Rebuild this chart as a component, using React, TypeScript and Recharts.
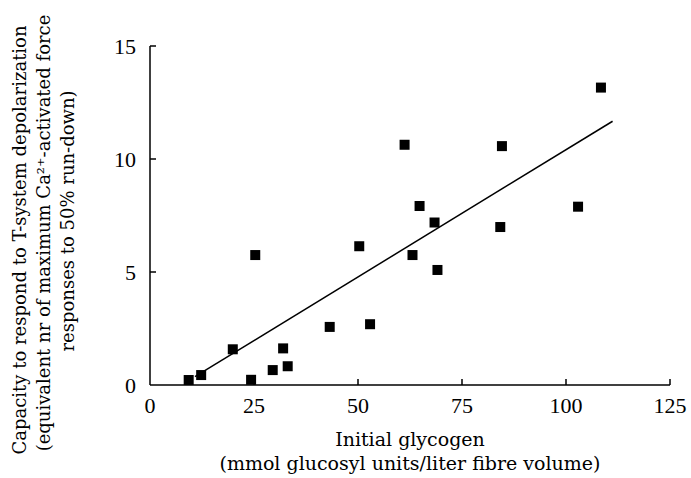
import React from 'react';
import { ScatterChart, Scatter, XAxis, YAxis } from 'recharts';

const glycogen = [9.3, 12.3, 19.9, 24.3, 25.3, 29.5, 32.0, 33.1, 43.2, 50.3, 52.9, 61.2, 63.1, 64.8, 68.4, 69.1, 84.2, 84.6, 102.9, 108.4];
const capacity = [0.22, 0.44, 1.58, 0.23, 5.75, 0.66, 1.62, 0.83, 2.57, 6.14, 2.69, 10.63, 5.75, 7.92, 7.19, 5.09, 6.99, 10.57, 7.89, 13.16];
const fitX = [10.8, 111.2];
const fitY = [0.37, 11.67];
const xTicks = [0, 25, 50, 75, 100, 125];
const yTicks = [0, 5, 10, 15];
const xTitle = ['Initial glycogen', '(mmol glucosyl units/liter fibre volume)'];
const yTitle = [
  'Capacity to respond to T-system depolarization',
  '(equivalent nr of maximum Ca²⁺-activated force',
  'responses to 50% run-down)',
];

const points = glycogen.map((g, i) => ({ x: g, y: capacity[i] }));
const fit = fitX.map((g, i) => ({ x: g, y: fitY[i] }));

const TICK_FONT = '"Liberation Serif", "Times New Roman", serif';
const TITLE_FONT = '"DejaVu Serif", serif';
const TM = 10;

const XTick = (props: any) => {
  const { x, y, payload } = props;
  const axisY = y - TM;
  return (
    <g>
      {payload.value > 0 && (
        <line x1={x} y1={axisY} x2={x} y2={axisY - 6} stroke="#000" strokeWidth={1.5} />
      )}
      <text x={x} y={axisY + 28} textAnchor="middle" fontFamily={TICK_FONT} fontSize={22} fill="#000">
        {payload.value}
      </text>
    </g>
  );
};

const YTick = (props: any) => {
  const { x, y, payload } = props;
  const axisX = x + TM;
  return (
    <g>
      {payload.value > 0 && (
        <line x1={axisX} y1={y} x2={axisX + 6} y2={y} stroke="#000" strokeWidth={1.5} />
      )}
      <text x={axisX - 14} y={y + 8} textAnchor="end" fontFamily={TICK_FONT} fontSize={22} fill="#000">
        {payload.value}
      </text>
    </g>
  );
};

const Square = (props: any) => {
  const { cx, cy } = props;
  if (cx == null || cy == null) return <g />;
  return <rect x={cx - 5} y={cy - 5} width={10} height={10} fill="#000" />;
};

const XTitle = (props: any) => {
  const vb = props.viewBox || {};
  const cx = vb.x + vb.width / 2;
  return (
    <g>
      <text x={cx} y={446} textAnchor="middle" fontFamily={TITLE_FONT} fontSize={19} fill="#000">{xTitle[0]}</text>
      <text x={cx} y={470} textAnchor="middle" fontFamily={TITLE_FONT} fontSize={19} fill="#000">{xTitle[1]}</text>
    </g>
  );
};

const YTitle = () => {
  const xs = [26, 50, 74];
  const cys = [240, 233, 221];
  return (
    <g>
      {yTitle.map((t, i) => (
        <text
          key={i}
          x={xs[i]}
          y={cys[i]}
          transform={`rotate(-90, ${xs[i]}, ${cys[i]})`}
          textAnchor="middle"
          fontFamily={TITLE_FONT}
          fontSize={18}
          fill="#000"
        >
          {t}
        </text>
      ))}
    </g>
  );
};

export default function App() {
  return (
    <div style={{ position: 'absolute', left: 0, top: 0, width: 691, height: 478, background: '#fff' }}>
      <ScatterChart width={691} height={478} margin={{ top: 46, right: 21, bottom: 53, left: 90 }}>
        <XAxis
          type="number"
          dataKey="x"
          domain={[0, 125]}
          ticks={xTicks}
          interval={0}
          allowDataOverflow
          height={40}
          tickSize={0}
          tickMargin={TM}
          tick={<XTick />}
          axisLine={{ stroke: '#000', strokeWidth: 1.5 }}
          label={<XTitle />}
        />
        <YAxis
          type="number"
          dataKey="y"
          domain={[0, 15]}
          ticks={yTicks}
          interval={0}
          allowDataOverflow
          width={60}
          tickSize={0}
          tickMargin={TM}
          tick={<YTick />}
          axisLine={{ stroke: '#000', strokeWidth: 1.5 }}
          label={<YTitle />}
        />
        <Scatter data={fit} line={{ stroke: '#000', strokeWidth: 1.5 }} shape={() => <g />} isAnimationActive={false} />
        <Scatter data={points} shape={<Square />} isAnimationActive={false} />
      </ScatterChart>
    </div>
  );
}
